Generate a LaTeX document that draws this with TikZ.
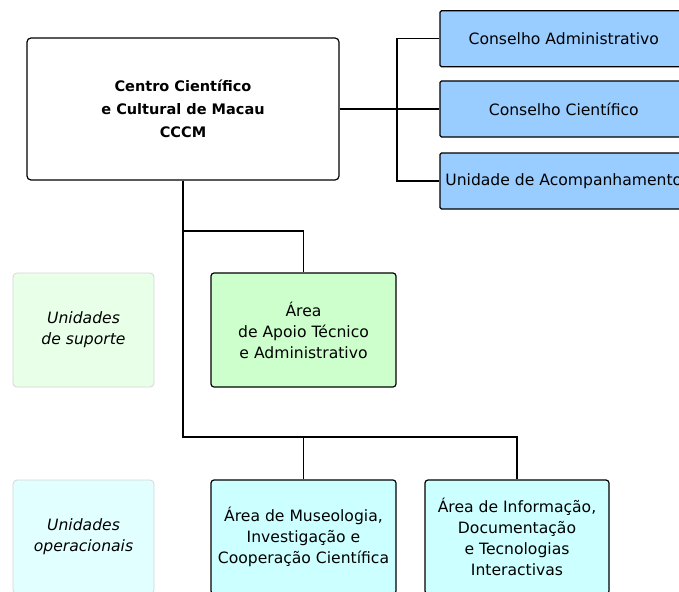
\documentclass[tikz,border=0pt]{standalone}
\usepackage{fontspec}
\setmainfont{DejaVu Sans}
\usetikzlibrary{positioning}
\definecolor{cccmBlue}{RGB}{153,204,255}
\definecolor{cccmGreen}{RGB}{204,255,204}
\definecolor{cccmCyan}{RGB}{204,255,255}
\definecolor{cccmPaleGreen}{RGB}{232,255,232}
\definecolor{cccmPaleCyan}{RGB}{226,255,255}
\definecolor{cccmFrame}{RGB}{214,214,214}

\begin{document}
\begin{tikzpicture}[x=1pt, y=-1pt,
    every node/.style={font=\fontsize{15.6}{21}\selectfont, align=center, inner sep=0pt},
    unitbox/.style={draw=black, line width=1.2pt, rounded corners=3pt},
    councilbox/.style={unitbox, fill=cccmBlue, rounded corners=1.5pt, minimum width=247.6pt, minimum height=56pt},
    areabox/.style={unitbox, minimum width=185pt, minimum height=114pt},
    tagbox/.style={draw=cccmFrame, line width=0.8pt, rounded corners=4pt, minimum width=141pt, minimum height=114pt, font=\fontsize{15.6}{21}\selectfont\itshape},
    link/.style={draw=black, line width=1.3pt}]
  \clip (0,0) rectangle (679,591);
  \fill[white] (0,0) rectangle (679,591);

  % centre
  \node[unitbox, fill=white, rounded corners=4pt, minimum width=312pt, minimum height=142pt,
        font=\fontsize{14.5}{23}\selectfont\bfseries] (cccm) at (183,109)
        {Centro Científico\\e Cultural de Macau\\CCCM};

  % conselhos
  \node[councilbox] (ca) at (563.8,38.7) {Conselho Administrativo};
  \node[councilbox] (cs) at (563.8,109) {Conselho Científico};
  \node[councilbox] (ua) at (563.8,181) {Unidade de Acompanhamento};

  % areas
  \node[areabox, fill=cccmGreen] (apoio) at (303.5,330) {Área\\de Apoio Técnico\\e Administrativo};
  \node[areabox, fill=cccmCyan] (museu) at (303.5,537) {Área de Museologia,\\Investigação e\\Cooperação Científica};
  \node[areabox, fill=cccmCyan, minimum width=184pt] (info) at (517,537) {Área de Informação,\\Documentação\\e Tecnologias\\Interactivas};

  % etiquetas
  \node[tagbox, fill=cccmPaleGreen] (suporte) at (83.5,330) {Unidades\\de suporte};
  \node[tagbox, fill=cccmPaleCyan] (operac) at (83.5,537) {Unidades\\operacionais};

  % ligacoes
  \coordinate (bracket) at (397,109);
  \coordinate (j1) at (183,231);
  \coordinate (trunk) at (183,437);
  \draw[link] (cccm.east) -- (cs.west);
  \draw[link] (ca.west) -- (ca.west -| bracket) -- (ua.west -| bracket) -- (ua.west);
  \draw[link] (cccm.south) -- (trunk) -- (trunk -| info.north) -- (info.north);
  \draw[link] (trunk -| museu.north) -- (museu.north);
  \draw[link] (j1) -| (apoio.north);
\end{tikzpicture}
\end{document}
